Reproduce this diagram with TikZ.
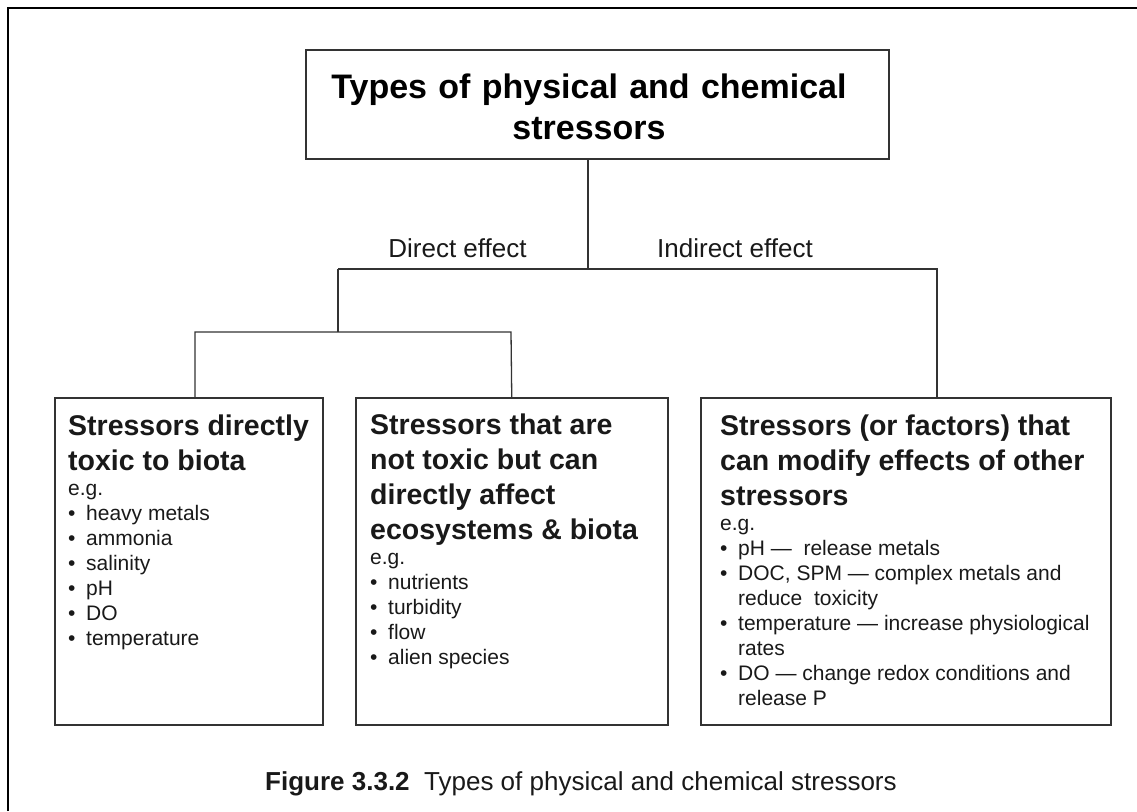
\documentclass[tikz,border=0pt]{standalone}
\usepackage{fontspec}
\setmainfont{Liberation Sans}
\setlength{\parindent}{0pt}
\newcommand{\itm}{\makebox[18pt][l]{\textbullet}}
\newcommand{\headsize}{\fontsize{28.5}{35}\selectfont\bfseries\spaceskip=0pt\xspaceskip=0pt\relax}
\newcommand{\listsize}{\fontsize{21}{25}\selectfont\mdseries\spaceskip=0pt\xspaceskip=0pt\relax}

\begin{document}
\begin{tikzpicture}[x=1pt,y=-1pt,
  stbox/.style={draw=black!80,line width=1.5pt,anchor=north west,inner sep=0pt},
  body/.style={anchor=base west,inner sep=0pt,align=flush left,text=black!90},
  link/.style={draw=black!80,line width=1.3pt},
  effect/.style={anchor=base,inner sep=0pt,font=\fontsize{26}{30}\selectfont,text=black!90}]
\useasboundingbox (0,0) rectangle (1137,811);
\draw[line width=2pt] (8,811) -- (8,8) -- (1137,8);

\node[stbox,minimum width=583pt,minimum height=109pt] (title) at (305,49) {};
\node[anchor=base,inner sep=0pt,text width=560pt,align=center,
  font=\fontsize{34}{41}\selectfont\bfseries] (titletext) at (589,98)
  {Types of physical and chemical\\stressors};

\node[stbox,minimum width=268pt,minimum height=327pt] (toxic) at (54,397) {};
\node[stbox,minimum width=312pt,minimum height=327pt] (nontoxic) at (355,397) {};
\node[stbox,minimum width=410pt,minimum height=327pt] (modify) at (700,397) {};

\node[body,text width=250pt] (toxictext) at (68,435) {\headsize Stressors directly\\toxic to biota\par
\listsize e.g.\par
\itm heavy metals\par
\itm ammonia\par
\itm salinity\par
\itm pH\par
\itm DO\par
\itm temperature\par};

\node[body,text width=292pt] (nontoxictext) at (370,434) {\headsize Stressors that are\\not toxic but can\\directly affect\\ecosystems \& biota\par
\listsize e.g.\par
\itm nutrients\par
\itm turbidity\par
\itm flow\par
\itm alien species\par};

\node[body,text width=385pt] (modifytext) at (720,435) {\headsize Stressors (or factors) that\\can modify effects of other\\stressors\par
\listsize e.g.\par
\itm pH —\ \ release metals\par
\itm DOC, SPM — complex metals and\newline\hspace*{18pt}reduce\ \ toxicity\par
\itm temperature — increase physiological\newline\hspace*{18pt}rates\par
\itm DO — change redox conditions and\newline\hspace*{18pt}release P\par};

\coordinate (trunk) at (588,269);
\coordinate (dirjoint) at (338,269);
\coordinate (indjoint) at (937,269);
\coordinate (dirsplit) at (338,332);
\coordinate (toxjoint) at (195,332);
\coordinate (ntxjoint) at (511,332);

\draw[link] (title.south -| trunk) -- (trunk);
\draw[link] (dirjoint) -- (indjoint) -- (indjoint |- modify.north);
\draw[link] (dirjoint) -- (dirsplit);
\draw[link] (toxjoint |- toxic.north) -- (toxjoint) -- (ntxjoint) -- (nontoxic.north);

\node[effect] (direct) at (457.5,257) {Direct effect};
\node[effect] (indirect) at (735,257) {Indirect effect};

\node[anchor=base west,inner sep=0pt,font=\fontsize{26}{30}\selectfont,text=black!90] (caption) at (265,790)
  {\textbf{Figure 3.3.2}\ \ Types of physical and chemical stressors};
\end{tikzpicture}
\end{document}
